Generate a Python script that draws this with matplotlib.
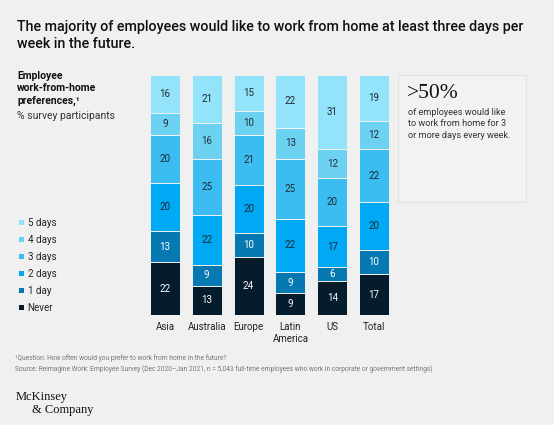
import matplotlib
matplotlib.use("Agg")
from matplotlib import pyplot as plt
from matplotlib.patches import Rectangle, Patch
import numpy as np

regions = ["Asia", "Australia", "Europe", "Latin\nAmerica", "US", "Total"]
levels = ["Never", "1 day", "2 days", "3 days", "4 days", "5 days"]
never = [22, 13, 24, 9, 14, 17]
one_day = [13, 9, 10, 9, 6, 10]
two_days = [20, 22, 20, 22, 17, 20]
three_days = [20, 25, 21, 25, 20, 22]
four_days = [9, 16, 10, 13, 12, 12]
five_days = [16, 21, 15, 22, 31, 19]
colors = ["#051c2c", "#0679b3", "#00a9f4", "#3bbdf2", "#6dd1f2", "#93e3fa"]
text_colors = ["white", "white", "#1f2a33", "#1f2a33", "#1f2a33", "#1f2a33"]

bg = "#f0f0f0"
fig = plt.figure(figsize=(5.54, 4.25), dpi=100, facecolor=bg)
plt.rcParams["font.family"] = ["Roboto", "DejaVu Sans"]

series = np.array([never, one_day, two_days, three_days, four_days, five_days], dtype=float)
# bars are drawn to full height, segments scaled to 100
shares = series / series.sum(axis=0) * 100

ax = fig.add_axes([144 / 554, 1 - 315 / 425, 251 / 554, 240 / 425])
ax.set_facecolor(bg)
x = np.arange(len(regions))
bottom = np.zeros(len(regions))
for i, lvl in enumerate(levels):
    ax.bar(x, shares[i], 0.72, bottom=bottom, color=colors[i], edgecolor=bg,
           linewidth=0.7, label=lvl)
    for j in range(len(regions)):
        ax.text(x[j], bottom[j] + shares[i][j] / 2, str(int(series[i][j])),
                ha="center", va="center", fontsize=7, color=text_colors[i])
    bottom += shares[i]
ax.set_xlim(-0.5, 5.5)
ax.set_ylim(0, 100)
ax.set_yticks([])
ax.set_xticks(x)
ax.set_xticklabels(regions, fontsize=7, color="#222222", linespacing=1.3)
ax.tick_params(axis="x", length=0, pad=5)
for s in ax.spines.values():
    s.set_visible(False)

# title
fig.text(17 / 554, 1 - 20 / 425,
         "The majority of employees would like to work from home at least three days per\nweek in the future.",
         ha="left", va="top", fontsize=10.3, fontweight="medium", color="#111111", linespacing=1.3)

# left header
fig.text(17 / 554, 1 - 71 / 425, "Employee\nwork-from-home\npreferences,\u00b9",
         ha="left", va="top", fontsize=7.5, fontweight="bold", color="#111111", linespacing=1.3)
fig.text(17 / 554, 1 - 111 / 425, "% survey participants",
         ha="left", va="top", fontsize=7.5, color="#333333")

# legend
handles = [Patch(facecolor=colors[i], edgecolor="none", label=levels[i]) for i in range(5, -1, -1)]
fig.legend(handles=handles, loc="upper left", bbox_to_anchor=(19 / 554, 1 - 218 / 425),
           frameon=False, fontsize=7, handlelength=0.55, handleheight=0.55,
           handletextpad=0.35, labelspacing=0.72, borderpad=0, borderaxespad=0,
           labelcolor="#222222")

# callout box
fig.patches.append(Rectangle((398 / 554, 1 - 202 / 425), 128 / 554, 127 / 425,
                             transform=fig.transFigure, facecolor="#f2f2f2",
                             edgecolor="#e2e2e2", linewidth=0.8))
fig.text(407 / 554, 1 - 84 / 425, ">50%", family=["Liberation Serif", "DejaVu Serif"],
         ha="left", va="top", fontsize=15.5, color="#111111")
fig.text(408 / 554, 1 - 108 / 425,
         "of employees would like\nto work from home for 3\nor more days every week.",
         ha="left", va="top", fontsize=6.6, color="#333333", linespacing=1.35)

# footnotes
fig.text(15 / 554, 1 - 354 / 425, "\u00b9Question: How often would you prefer to work from home in the future?",
         ha="left", va="top", fontsize=4.8, color="#777777")
fig.text(15 / 554, 1 - 365.5 / 425,
         "Source: Reimagine Work: Employee Survey (Dec 2020\u2013Jan 2021, n = 5,043 full-time employees who work in corporate or government settings)",
         ha="left", va="top", fontsize=4.8, color="#777777")

# logo
fig.text(16 / 554, 1 - 391 / 425, "McKinsey", family=["Liberation Serif", "DejaVu Serif"],
         ha="left", va="top", fontsize=9, color="#111111")
fig.text(32 / 554, 1 - 404 / 425, "& Company", family=["Liberation Serif", "DejaVu Serif"],
         ha="left", va="top", fontsize=9, color="#111111")

fig.savefig("out.png", dpi=100, facecolor=bg)
